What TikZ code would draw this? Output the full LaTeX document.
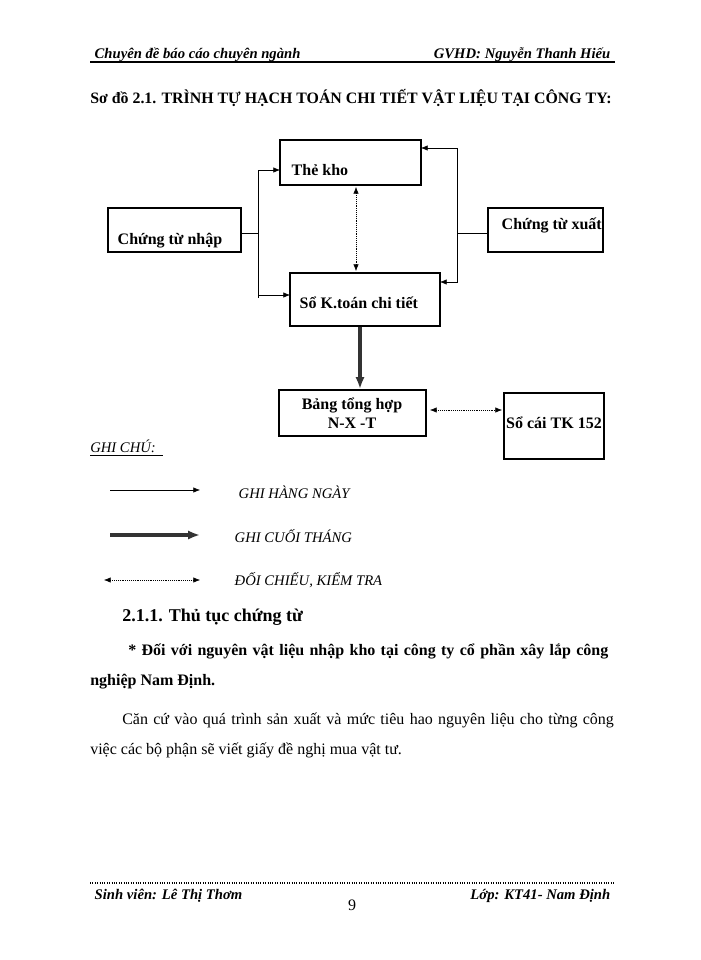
\documentclass[tikz,border=0pt]{standalone}
\usepackage{fontspec}
\setmainfont{Liberation Serif}
\usetikzlibrary{arrows.meta}
\begin{document}
\begin{tikzpicture}[x=0.75pt,y=-0.75pt,
  box/.style={draw,thick,inner sep=0pt},
  lbl/.style={font=\bfseries\fontsize{12}{14}\selectfont},
  daily/.style={-{Latex[length=5pt,width=4pt]},thin},
  check/.style={{Latex[length=5pt,width=4pt]}-{Latex[length=5pt,width=4pt]},densely dotted,thin},
  monthly/.style={-{Latex[length=9pt,width=7pt]},line width=2.4pt,draw=black!80},
  leg/.style={anchor=west,font=\itshape\fontsize{11}{12}\selectfont}]
\useasboundingbox[fill=white] (0,0) rectangle (700,960);
% header
\node[anchor=base west,font=\bfseries\itshape\fontsize{11}{12}\selectfont] (h1) at (90,58) {Chuyên đề báo cáo chuyên ngành};
\node[anchor=base east,font=\bfseries\itshape\fontsize{11}{12}\selectfont] (h2) at (615,58) {GVHD: Nguyễn Thanh Hiếu};
\draw[line width=1.2pt] (90,62) -- (615,62);
\node[anchor=base west,inner sep=0pt,font=\bfseries\fontsize{11.9}{14}\selectfont] (title) at (90,103) {Sơ đồ 2.1. TRÌNH TỰ HẠCH TOÁN CHI TIẾT VẬT LIỆU TẠI CÔNG TY:};
% boxes
\draw[box] (280,140) rectangle (421,185);
\node[lbl,anchor=base west] (tk) at (287,175) {Thẻ kho};
\draw[box] (108,208) rectangle (241,252);
\node[lbl,anchor=base west] (ctn) at (113,244) {Chứng từ nhập};
\draw[box] (488,208) rectangle (603,252);
\node[lbl,anchor=base west] (ctx) at (497,229) {Chứng từ xuất};
\draw[box] (290,273) rectangle (440,326);
\node[lbl,anchor=base west] (sk) at (295,308) {Sổ K.toán chi tiết};
\draw[box] (279,390) rectangle (426,436);
\node[lbl,align=center] (bth) at (352,413) {Bảng tổng hợp\\N-X -T};
\draw[box] (504,393) rectangle (604,459);
\node[lbl] (sc) at (554,423) {Sổ cái TK 152};
\coordinate (tkL) at (280,170); \coordinate (tkR) at (421,148);
\coordinate (skL) at (290,295); \coordinate (skR) at (440,282);
\coordinate (ctnR) at (241,233); \coordinate (ctxL) at (488,233);
\draw (ctnR) -- (258,233);
\draw[daily] (258,233) |- (tkL);
\draw (258,233) -- (258,298);
\draw[daily] (258,295) -- (skL);
\draw[daily] (ctxL) -- (457,233) |- (tkR);
\draw[daily] (457,233) |- (skR);
\draw[check] (356,187) -- (356,271);
\draw[monthly] (360,327) -- (360,389);
\draw[check] (430,410) -- (502,410);
% legend
\node[anchor=base west,inner sep=0pt,font=\itshape\fontsize{11}{12}\selectfont] (gc) at (90,452) {GHI CHÚ:};
\draw (90,455) -- (163,455);
\coordinate (a1) at (110,490); \coordinate (b1) at (200,490);
\coordinate (a2) at (110,535); \coordinate (b2) at (200,535);
\coordinate (a3) at (104,580); \coordinate (b3) at (200,580);
\draw[daily] (a1) -- (b1);
\draw[monthly] (a2) -- (b2);
\draw[check] (a3) -- (b3);
\node[leg] (l1) at (234,492) {GHI HÀNG NGÀY};
\node[leg] (l2) at (230,536) {GHI CUỐI THÁNG};
\node[leg] (l3) at (230,580) {ĐỐI CHIẾU, KIỂM TRA};
% text
\node[anchor=base west,inner sep=0pt,font=\bfseries\fontsize{13.5}{15}\selectfont] (s) at (122,621) {2.1.1. Thủ tục chứng từ};
\node[anchor=base west,inner sep=0pt,text width=366.75pt,font=\bfseries\fontsize{12}{14}\selectfont] (p1) at (128,655) {{\parfillskip=0pt * Đối với nguyên vật liệu nhập kho tại công ty cổ phần xây lắp công\par}};
\node[anchor=base west,inner sep=0pt,font=\bfseries\fontsize{12}{14}\selectfont] (p2) at (90,685) {nghiệp Nam Định.};
\node[anchor=base west,inner sep=0pt,text width=371.25pt,font=\fontsize{12}{14}\selectfont] (p3) at (122,724) {{\parfillskip=0pt Căn cứ vào quá trình sản xuất và mức tiêu hao nguyên liệu cho từng công\par}};
\node[anchor=base west,inner sep=0pt,font=\fontsize{12}{14}\selectfont] (p4) at (90,754) {việc các bộ phận sẽ viết giấy đề nghị mua vật tư.};
% footer
\draw[densely dotted,thick] (90,883) -- (615,883);
\node[anchor=base west,font=\bfseries\itshape\fontsize{11}{12}\selectfont] (f1) at (90,899) {Sinh viên: Lê Thị Thơm};
\node[anchor=base,font=\fontsize{12}{13}\selectfont] (pg) at (352,910) {9};
\node[anchor=base east,font=\bfseries\itshape\fontsize{11}{12}\selectfont] (f2) at (615,899) {Lớp: KT41- Nam Định};
\end{tikzpicture}
\end{document}
